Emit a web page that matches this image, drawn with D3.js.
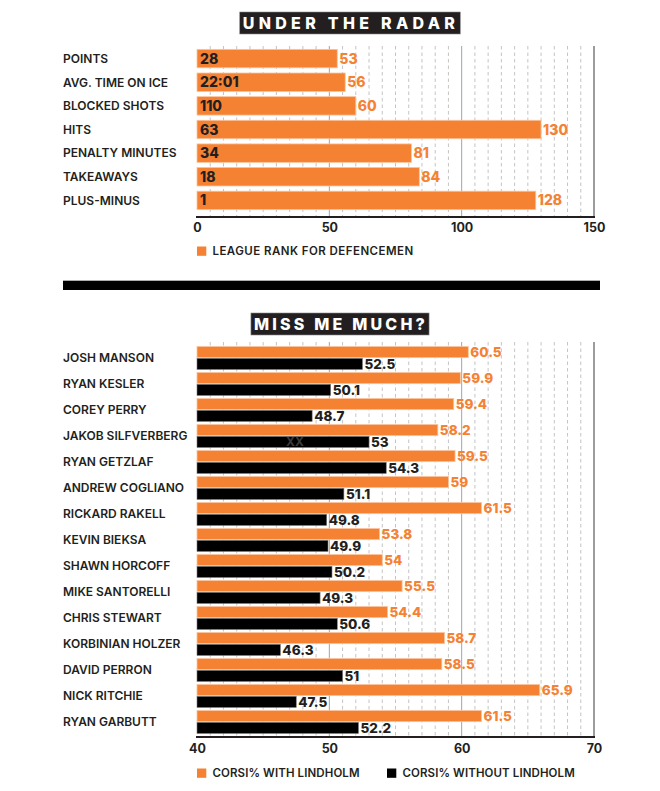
<!DOCTYPE html>
<html>
<head>
<meta charset="utf-8">
<script src="https://cdn.jsdelivr.net/npm/d3@7"></script>
<style>
  body { margin: 0; background: #fff; }
  text { font-family: Inter, "Liberation Sans", sans-serif; }
</style>
</head>
<body>
<div id="chart"></div>
<script>
    // under the radar
    var stats = ["POINTS", "AVG. TIME ON ICE", "BLOCKED SHOTS", "HITS", "PENALTY MINUTES", "TAKEAWAYS", "PLUS-MINUS"]
    var statValues = ["28", "22:01", "110", "63", "34", "18", "1"]
    var leagueRank = [53, 56, 60, 130, 81, 84, 128]
    var rankTicks = [0, 50, 100, 150]

    // miss me much?
    var players = ["JOSH MANSON", "RYAN KESLER", "COREY PERRY", "JAKOB SILFVERBERG", "RYAN GETZLAF", "ANDREW COGLIANO",
        "RICKARD RAKELL", "KEVIN BIEKSA", "SHAWN HORCOFF", "MIKE SANTORELLI", "CHRIS STEWART", "KORBINIAN HOLZER",
        "DAVID PERRON", "NICK RITCHIE", "RYAN GARBUTT"]
    var withLindholm = [60.5, 59.9, 59.4, 58.2, 59.5, 59, 61.5, 53.8, 54, 55.5, 54.4, 58.7, 58.5, 65.9, 61.5]
    var withoutLindholm = [52.5, 50.1, 48.7, 53, 54.3, 51.1, 49.8, 49.9, 50.2, 49.3, 50.6, 46.3, 51, 47.5, 52.2]
    var corsiTicks = [40, 50, 60, 70]

    var orange = "#f58233"
    var ink = "#231f20"

    var svg = d3.select("#chart").append("svg")
        .attr("width", 660)
        .attr("height", 791)

    function titleBox(text, cx, cy, spacing) {
        var g = svg.append("g")
        var rect = g.append("rect").attr("fill", ink).attr("stroke", "#888").attr("stroke-width", 0.6)
        var t = g.append("text")
            .attr("x", cx).attr("y", cy).attr("dy", "0.36em")
            .attr("text-anchor", "middle")
            .attr("fill", "#fff")
            .attr("font-size", 16)
            .attr("font-weight", 800)
            .attr("letter-spacing", spacing)
            .text(text)
        var b = t.node().getBBox()
        rect.attr("x", b.x - 3).attr("y", cy - 11).attr("width", b.width + 4).attr("height", 22)
    }

    function grid(g, x, step, solid, y0, y1) {
        var d = x.domain()
        var lines = d3.range(d[0] + step, d[1], step).filter(v => solid.indexOf(v) < 0)
        g.selectAll("line.dash").data(lines).join("line")
            .attr("class", "dash")
            .attr("x1", d => x(d)).attr("x2", d => x(d))
            .attr("y1", y0).attr("y2", y1)
            .attr("stroke", "#b5b5b5").attr("stroke-width", 0.8)
            .attr("stroke-dasharray", "3.5,3")
        g.selectAll("line.solid").data(solid).join("line")
            .attr("class", "solid")
            .attr("x1", d => x(d)).attr("x2", d => x(d))
            .attr("y1", y0).attr("y2", y1)
            .attr("stroke", "#a0a4aa").attr("stroke-width", 1)
        g.append("line")
            .attr("x1", x(d[1])).attr("x2", x(d[1]))
            .attr("y1", y0).attr("y2", y1)
            .attr("stroke", "#5a5a5a").attr("stroke-width", 1.2)
        g.append("line")
            .attr("x1", x(d[0]) - 1).attr("x2", x(d[1]) + 1)
            .attr("y1", y1).attr("y2", y1)
            .attr("stroke", ink).attr("stroke-width", 2.2)
    }

    function axis(x, ticks, y) {
        var ax = svg.append("g")
            .attr("transform", `translate(0,${y})`)
            .call(d3.axisBottom(x).tickValues(ticks).tickSize(0).tickPadding(0))
        ax.select(".domain").remove()
        ax.selectAll("text")
            .attr("font-family", "Inter, sans-serif")
            .attr("font-size", 12.5)
            .attr("font-weight", 700)
            .attr("fill", ink)
            .attr("dy", "0.35em")
    }

    function legendItem(x, y, color, label, spacing) {
        svg.append("rect").attr("x", x).attr("y", y - 4.5).attr("width", 9.3).attr("height", 9.3).attr("fill", color)
        svg.append("text").attr("x", x + 15.5).attr("y", y).attr("dy", "0.38em")
            .attr("font-size", 11.5).attr("font-weight", 600).attr("fill", ink)
            .attr("letter-spacing", spacing)
            .text(label)
    }

    // ---- top chart
    titleBox("UNDER THE RADAR", 351, 23, 4.3)

    var xTop = d3.scaleLinear().domain([0, 150]).range([197, 594])
    var yTop = d3.scaleBand().domain(stats).range([47, 212]).paddingInner(0.22).paddingOuter(0.1)

    var topChart = svg.append("g")
    grid(topChart, xTop, 5, [50, 100], 46, 217)

    topChart.selectAll("rect.bar").data(stats).join("rect")
        .attr("class", "bar")
        .attr("x", xTop(0))
        .attr("y", d => yTop(d))
        .attr("width", (d, i) => xTop(leagueRank[i]) - xTop(0))
        .attr("height", yTop.bandwidth())
        .attr("fill", orange)
        .attr("stroke", "#fbc39c").attr("stroke-width", 0.8)

    topChart.selectAll("text.cat").data(stats).join("text")
        .attr("class", "cat")
        .attr("x", 63)
        .attr("y", d => yTop(d) + yTop.bandwidth() / 2)
        .attr("dy", "0.36em")
        .attr("font-size", 12)
        .attr("font-weight", 600)
        .attr("fill", ink)
        .text(d => d)

    topChart.selectAll("text.inner").data(stats).join("text")
        .attr("class", "inner")
        .attr("x", xTop(0) + 3)
        .attr("y", d => yTop(d) + yTop.bandwidth() / 2)
        .attr("dy", "0.36em")
        .attr("font-size", 14)
        .attr("font-weight", 800)
        .attr("fill", ink)
        .text((d, i) => statValues[i])

    topChart.selectAll("text.rank").data(stats).join("text")
        .attr("class", "rank")
        .attr("x", (d, i) => xTop(leagueRank[i]) + 2)
        .attr("y", d => yTop(d) + yTop.bandwidth() / 2)
        .attr("dy", "0.36em")
        .attr("font-size", 14)
        .attr("font-weight", 800)
        .attr("fill", orange)
        .text((d, i) => leagueRank[i])

    axis(xTop, rankTicks, 228)
    legendItem(197, 251, orange, "LEAGUE RANK FOR DEFENCEMEN", 0.45)

    // separator
    svg.append("line").attr("x1", 63).attr("x2", 600).attr("y1", 280.5).attr("y2", 280.5)
        .attr("stroke", "#999").attr("stroke-width", 0.8)
    svg.append("rect").attr("x", 63).attr("y", 281).attr("width", 537).attr("height", 9).attr("fill", "#000")

    // ---- bottom chart
    titleBox("MISS ME MUCH?", 341, 324, 3.2)

    var xBot = d3.scaleLinear().domain([40, 70]).range([197, 594])
    var yBot = d3.scaleBand().domain(players).range([345, 735]).paddingInner(0.12).paddingOuter(0.06)
    var ySub = d3.scaleBand().domain(["with", "without"]).range([0, yBot.bandwidth()]).paddingInner(0.06)

    var botChart = svg.append("g")
    grid(botChart, xBot, 1, [50, 60], 342, 737)

    var rows = players.map((p, i) => ({name: p, with: withLindholm[i], without: withoutLindholm[i]}))

    var group = botChart.selectAll("g.row").data(rows).join("g")
        .attr("class", "row")
        .attr("transform", d => `translate(0,${yBot(d.name)})`)

    group.append("rect")
        .attr("x", xBot(40))
        .attr("y", ySub("with"))
        .attr("width", d => xBot(d.with) - xBot(40))
        .attr("height", ySub.bandwidth())
        .attr("fill", orange)
        .attr("stroke", "#fbc39c").attr("stroke-width", 0.8)

    group.append("rect")
        .attr("x", xBot(40))
        .attr("y", ySub("without"))
        .attr("width", d => xBot(d.without) - xBot(40))
        .attr("height", ySub.bandwidth())
        .attr("fill", "#000")
        .attr("stroke", "#777").attr("stroke-width", 0.6)

    group.append("text")
        .attr("x", d => xBot(d.with) + 2)
        .attr("y", ySub("with") + ySub.bandwidth() / 2)
        .attr("dy", "0.36em")
        .attr("font-size", 13.5)
        .attr("font-weight", 800)
        .attr("fill", orange)
        .text(d => d.with)

    group.append("text")
        .attr("x", d => xBot(d.without) + 2)
        .attr("y", ySub("without") + ySub.bandwidth() / 2)
        .attr("dy", "0.36em")
        .attr("font-size", 13.5)
        .attr("font-weight", 800)
        .attr("fill", ink)
        .text(d => d.without)

    group.append("text")
        .attr("x", 63)
        .attr("y", yBot.bandwidth() / 2)
        .attr("dy", "0.36em")
        .attr("font-size", 12)
        .attr("font-weight", 600)
        .attr("fill", ink)
        .text(d => d.name)

    // stray marks left in the original artwork
    botChart.append("text")
        .attr("x", xBot(47.4))
        .attr("y", yBot("JAKOB SILFVERBERG") + ySub("without") + ySub.bandwidth() / 2)
        .attr("dy", "0.36em")
        .attr("text-anchor", "middle")
        .attr("font-size", 12)
        .attr("font-weight", 700)
        .attr("fill", "#3a3a3a")
        .text("XX")

    axis(xBot, corsiTicks, 749)
    legendItem(197, 773, orange, "CORSI% WITH LINDHOLM", 0.1)
    legendItem(387, 773, "#000", "CORSI% WITHOUT LINDHOLM", 0.1)
</script>
</body>
</html>
